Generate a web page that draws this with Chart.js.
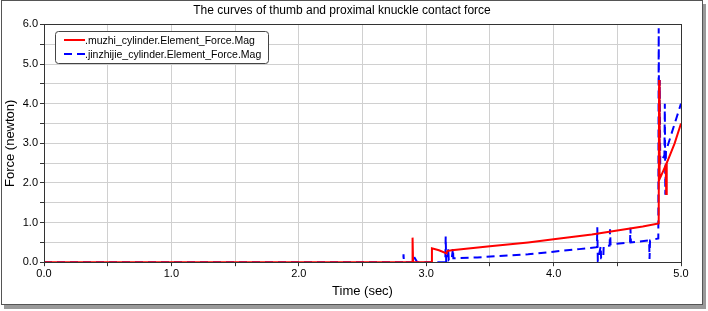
<!DOCTYPE html>
<html>
<head>
<meta charset="utf-8">
<script src="https://cdn.jsdelivr.net/npm/chart.js@4.4.1/dist/chart.umd.min.js"></script>
<style>
  html, body { margin: 0; padding: 0; background: #ffffff; }
  #wrap { position: relative; width: 708px; height: 311px; }
</style>
</head>
<body>
<div id="wrap"><canvas id="forceChart" width="708" height="311"></canvas></div>
<script>
// Contact force curves (time in sec, force in newton)
const muzhiTime = [0, 2.89, 2.893, 2.897, 3.04, 3.045, 3.1, 3.16, 3.165, 3.2, 3.5, 3.8, 4.0, 4.3, 4.5, 4.7, 4.825, 4.828, 4.832, 4.86, 4.88, 4.884, 4.888, 4.95, 5.0];
const muzhiForce = [0, 0, 0.62, 0, 0, 0.35, 0.3, 0.22, 0.28, 0.3, 0.4, 0.5, 0.58, 0.7, 0.8, 0.9, 0.98, 4.6, 2.1, 2.3, 2.45, 1.72, 2.5, 3.0, 3.5];

const jinzhijieTime = [0, 2.82, 2.822, 2.825, 2.9, 2.905, 2.93, 3.15, 3.153, 3.157, 3.17, 3.173, 3.177, 3.2, 3.21, 3.213, 3.4, 3.8, 4.2, 4.34, 4.343, 4.347, 4.37, 4.373, 4.39, 4.393, 4.44, 4.443, 4.447, 4.6, 4.603, 4.607, 4.75, 4.753, 4.757, 4.822, 4.825, 4.829, 4.833, 4.837, 4.87, 4.873, 4.877, 4.882, 5.0];
const jinzhijieForce = [0, 0, 0.2, 0, 0, 0.13, 0, 0, 0.65, 0, 0.05, 0.35, 0.05, 0.08, 0.35, 0.1, 0.12, 0.2, 0.33, 0.38, 0.88, 0.05, 0.4, 0.1, 0.1, 0.4, 0.42, 0.83, 0.45, 0.5, 0.87, 0.5, 0.55, 0.08, 0.55, 0.6, 5.9, 2.5, 4.6, 2.5, 2.7, 4.0, 1.7, 2.8, 4.0];

const xTicks = [0, 1, 2, 3, 4, 5];
const yTicks = [0, 1, 2, 3, 4, 5, 6];

const seriesLabels = ['.muzhi_cylinder.Element_Force.Mag', '.jinzhijie_cylinder.Element_Force.Mag'];

const fontFamily = '"Liberation Sans", Arial, sans-serif';

function toPoints(xs, ys) {
    return xs.map((x, i) => ({ x: x, y: ys[i] }));
}

// marco exterior con sombra
const framePlugin = {
    id: 'frame',
    beforeDraw(chart) {
        const c = chart.ctx;
        c.save();
        c.fillStyle = '#9a9a9a';
        c.fillRect(4, 305, 702, 4);
        c.fillRect(703, 4, 3, 305);
        c.strokeStyle = '#555555';
        c.lineWidth = 1;
        c.strokeRect(1.5, 0.5, 701, 304);
        c.restore();
    },
    afterDatasetsDraw(chart) {
        const a = chart.chartArea;
        const c = chart.ctx;
        c.save();
        c.strokeStyle = '#333333';
        c.lineWidth = 1;
        c.strokeRect(Math.round(a.left) + 0.5, Math.round(a.top) + 0.5, Math.round(a.right - a.left), Math.round(a.bottom - a.top));
        c.restore();
    }
};

// leyenda dentro del área del gráfico
const boxLegendPlugin = {
    id: 'boxLegend',
    afterDraw(chart) {
        const c = chart.ctx;
        const x = 55, y = 31, w = 213, h = 32;
        c.save();
        c.fillStyle = '#ffffff';
        c.strokeStyle = '#444444';
        c.lineWidth = 1;
        c.beginPath();
        c.roundRect(x + 0.5, y + 0.5, w, h, 3);
        c.fill();
        c.stroke();
        c.font = '10.5px ' + fontFamily;
        c.textBaseline = 'middle';
        chart.data.datasets.forEach((ds, i) => {
            const ly = y + 9 + i * 14;
            c.strokeStyle = ds.borderColor;
            c.lineWidth = 2;
            c.setLineDash(ds.borderDash || []);
            c.beginPath();
            c.moveTo(x + 9, ly);
            c.lineTo(x + 30, ly);
            c.stroke();
            c.setLineDash([]);
            c.fillStyle = '#000000';
            c.fillText(ds.label, x + 30, ly + 1);
        });
        c.restore();
    }
};

new Chart(document.getElementById('forceChart'), {
    type: 'line',
    data: {
        datasets: [
            {
                label: seriesLabels[0],
                data: toPoints(muzhiTime, muzhiForce),
                borderColor: '#ff0000',
                borderWidth: 2,
                pointRadius: 0,
                tension: 0
            },
            {
                label: seriesLabels[1],
                data: toPoints(jinzhijieTime, jinzhijieForce),
                borderColor: '#0000ff',
                borderWidth: 2,
                borderDash: [8, 5],
                pointRadius: 0,
                tension: 0
            }
        ]
    },
    options: {
        responsive: false,
        animation: false,
        layout: { padding: { left: 3, right: 27, top: 0, bottom: 12 } },
        plugins: {
            legend: { display: false },
            tooltip: { enabled: false },
            title: {
                display: true,
                text: 'The curves of thumb and proximal knuckle contact force',
                color: '#000000',
                font: { family: fontFamily, size: 12, weight: 'normal' },
                padding: { top: 3, bottom: 7 }
            }
        },
        scales: {
            x: {
                type: 'linear',
                min: xTicks[0],
                max: xTicks[xTicks.length - 1],
                ticks: {
                    stepSize: 0.5,
                    autoSkip: false,
                    maxRotation: 0,
                    color: '#000000',
                    font: { family: fontFamily, size: 11 },
                    padding: 1,
                    callback: (v) => xTicks.includes(v) ? v.toFixed(1) : ''
                },
                grid: { color: '#d0d0d0', tickColor: '#333333', tickLength: 4 },
                border: { color: '#333333' },
                title: {
                    display: true,
                    text: 'Time (sec)',
                    color: '#000000',
                    font: { family: fontFamily, size: 13 },
                    padding: { top: 2, bottom: 0 }
                }
            },
            y: {
                min: yTicks[0],
                max: yTicks[yTicks.length - 1],
                ticks: {
                    stepSize: 0.5,
                    autoSkip: false,
                    color: '#000000',
                    font: { family: fontFamily, size: 11 },
                    padding: 2,
                    callback: (v) => yTicks.includes(v) ? v.toFixed(1) : ''
                },
                grid: { color: '#d0d0d0', tickColor: '#333333', tickLength: 4 },
                border: { color: '#333333' },
                title: {
                    display: true,
                    text: 'Force (newton)',
                    color: '#000000',
                    font: { family: fontFamily, size: 13 },
                    padding: { top: 0, bottom: 0 }
                },
                afterFit: (scale) => { scale.width = 41; }
            }
        }
    },
    plugins: [framePlugin, boxLegendPlugin]
});
</script>
</body>
</html>
